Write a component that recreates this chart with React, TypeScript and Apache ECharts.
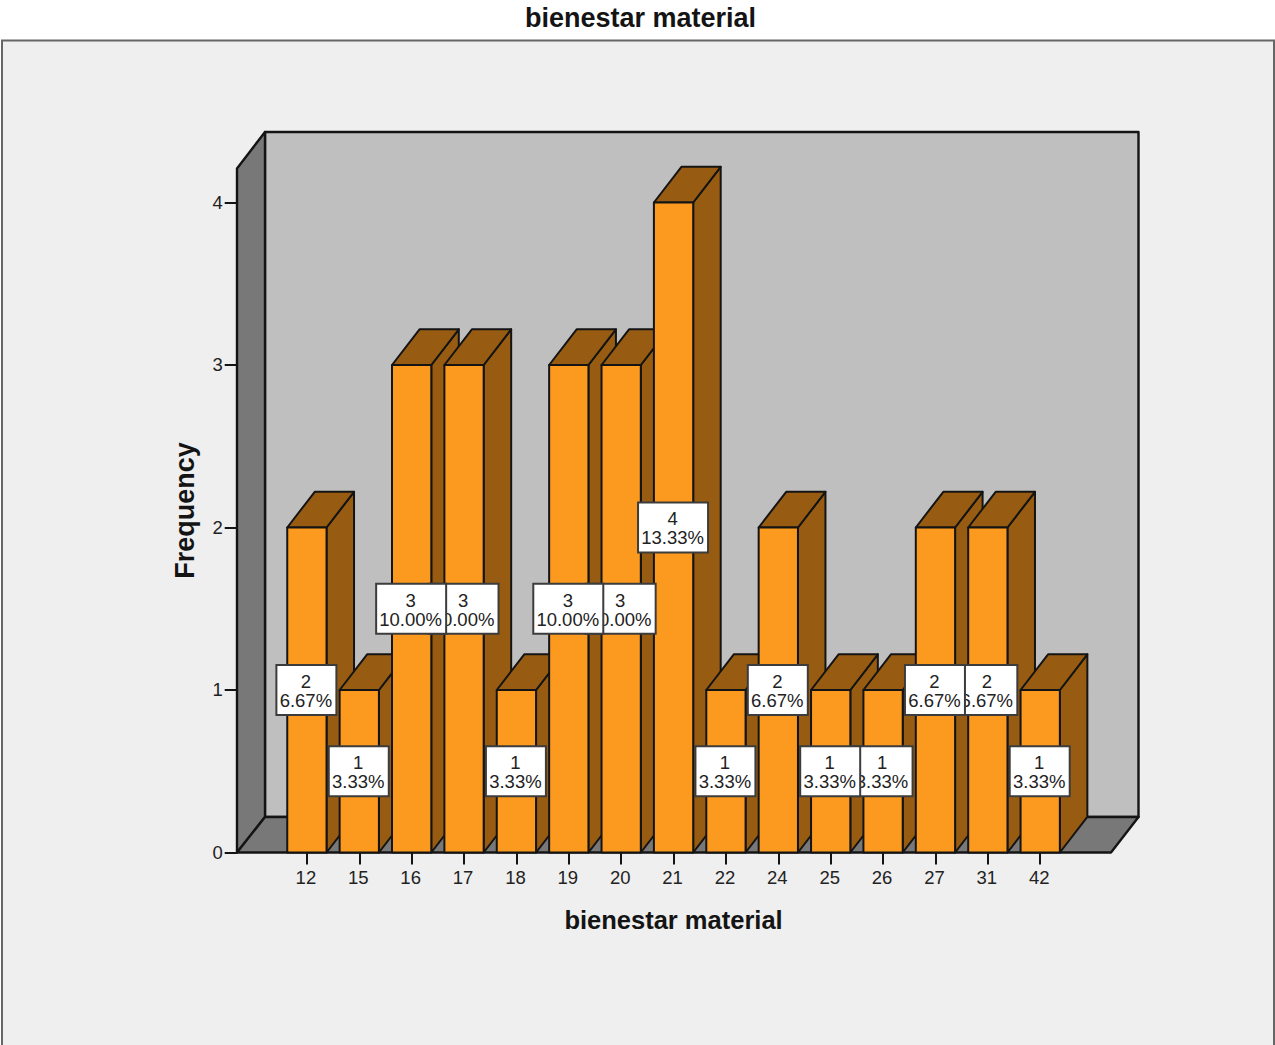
import React, { useEffect, useRef } from "react";
import * as echarts from "echarts";

// Frequencies of the "bienestar material" score
const categories = ["12", "15", "16", "17", "18", "19", "20", "21", "22", "24", "25", "26", "27", "31", "42"];
const frequencies = [2, 1, 3, 3, 1, 3, 3, 4, 1, 2, 1, 1, 2, 2, 1];
const percents = ["6.67%", "3.33%", "10.00%", "10.00%", "3.33%", "10.00%", "10.00%", "13.33%", "3.33%", "6.67%", "3.33%", "3.33%", "6.67%", "6.67%", "3.33%"];
const frequencyTicks = [0, 1, 2, 3, 4];

const FONT = '"Liberation Sans", Arial, sans-serif';
const INK = "#141414";
const TEXT = "#222222";
const ORANGE = "#fb9a1e";
const BROWN = "#975c12";
const WALL = "#787878";
const BACK = "#bfbfbf";
const PANEL = "#efefef";

// Oblique offset used for the box depth of bars and chart walls
const DX = 27.5;
const DY = -35.7;

const renderBar = (_: any, api: any) => {
  const i = api.value(0);
  const base = api.coord([i, 0]);
  const top = api.coord([i, api.value(1)]);
  const w = api.size([1, 0])[0] * 0.75;
  const l = base[0] - w / 2;
  const r = base[0] + w / 2;
  const stroke = { stroke: INK, lineWidth: 2, lineJoin: "round" };
  return {
    type: "group",
    children: [
      {
        type: "polygon",
        shape: { points: [[r, base[1]], [r + DX, base[1] + DY], [r + DX, top[1] + DY], [r, top[1]]] },
        style: { fill: BROWN, ...stroke },
      },
      {
        type: "polygon",
        shape: { points: [[l, top[1]], [l + DX, top[1] + DY], [r + DX, top[1] + DY], [r, top[1]]] },
        style: { fill: BROWN, ...stroke },
      },
      {
        type: "rect",
        shape: { x: l, y: top[1], width: w, height: base[1] - top[1] },
        style: { fill: ORANGE, ...stroke },
      },
    ],
  };
};

const renderLabel = (_: any, api: any) => {
  const i = api.value(0);
  const v = api.value(1);
  const pct = percents[i];
  const mid = api.coord([i, v / 2]);
  const w = pct.length > 5 ? 70 : 60;
  const h = 50;
  return {
    type: "group",
    children: [
      {
        type: "rect",
        shape: { x: mid[0] - w / 2 - 0.5, y: mid[1] - h / 2, width: w, height: h },
        style: { fill: "#ffffff", stroke: "#3c3c3c", lineWidth: 2 },
      },
      {
        type: "text",
        style: {
          x: mid[0] - 1,
          y: mid[1] + 1,
          text: `${v}\n${pct}`,
          align: "center",
          verticalAlign: "middle",
          fill: TEXT,
          font: `18.5px ${FONT}`,
          lineHeight: 19,
        },
      },
    ],
  };
};

export default function App() {
  const ref = useRef<HTMLDivElement>(null);

  useEffect(() => {
    const chart = echarts.init(ref.current!, null, { renderer: "svg" });
    const wallLine = { stroke: INK, lineWidth: 2.4, lineJoin: "round" };
    const barData = categories.map((_, i) => [i, frequencies[i]]);
    chart.setOption({
      animation: false,
      backgroundColor: "#ffffff",
      title: {
        text: "bienestar material",
        left: 520,
        top: -1,
        textStyle: { fontFamily: FONT, fontSize: 27, fontWeight: "bold", color: INK },
      },
      graphic: {
        elements: [
          {
            type: "rect",
            z: -10,
            silent: true,
            shape: { x: 2, y: 40.5, width: 1272, height: 1010 },
            style: { fill: PANEL, stroke: "#666666", lineWidth: 2 },
          },
          {
            type: "polygon",
            z: -9,
            silent: true,
            shape: { points: [[265, 132], [1138.5, 132], [1138.5, 817], [265, 817]] },
            style: { fill: BACK, ...wallLine },
          },
          {
            type: "polygon",
            z: -8,
            silent: true,
            shape: { points: [[237, 168.5], [265, 132], [265, 817], [237, 852.5]] },
            style: { fill: WALL, ...wallLine },
          },
          {
            type: "polygon",
            z: -8,
            silent: true,
            shape: { points: [[237, 852.5], [265, 817], [1138.5, 817], [1111, 852.5]] },
            style: { fill: WALL, ...wallLine },
          },
        ],
      },
      grid: { left: 280.7, top: 168.5, width: 785.7, height: 684 },
      xAxis: {
        type: "category",
        data: categories,
        name: "bienestar material",
        nameLocation: "middle",
        nameGap: 54,
        nameTextStyle: { fontFamily: FONT, fontSize: 25.5, fontWeight: "bold", color: INK },
        axisLine: { show: false },
        axisTick: { show: true, alignWithLabel: true, length: 12, lineStyle: { color: INK, width: 2 } },
        axisLabel: { interval: 0, margin: 15, padding: [0, 2, 0, 0], fontFamily: FONT, fontSize: 18.5, color: TEXT },
      },
      yAxis: {
        type: "value",
        min: 0,
        max: 4.2092,
        offset: 44,
        name: "Frequency",
        nameLocation: "middle",
        nameGap: 38,
        nameTextStyle: { fontFamily: FONT, fontSize: 27, fontWeight: "bold", color: INK },
        splitLine: { show: false },
        axisLine: { show: false },
        axisTick: { show: true, length: 12, customValues: frequencyTicks, lineStyle: { color: INK, width: 2 } },
        axisLabel: { margin: 14, padding: [5, 0, 0, 0], fontFamily: FONT, fontSize: 18.5, color: TEXT, customValues: frequencyTicks },
      },
      series: [
        {
          type: "custom",
          name: "Frequency",
          clip: false,
          z: 2,
          renderItem: renderBar,
          encode: { x: 0, y: 1 },
          data: barData,
        },
        {
          // Walked right to left so that each box sits over its right-hand neighbour
          type: "custom",
          name: "Labels",
          clip: false,
          z: 3,
          renderItem: renderLabel,
          encode: { x: 0, y: 1 },
          data: [...barData].reverse(),
        },
      ],
    });
    return () => chart.dispose();
  }, []);

  return <div ref={ref} style={{ position: "absolute", left: 0, top: 0, width: 1275, height: 1045 }} />;
}
